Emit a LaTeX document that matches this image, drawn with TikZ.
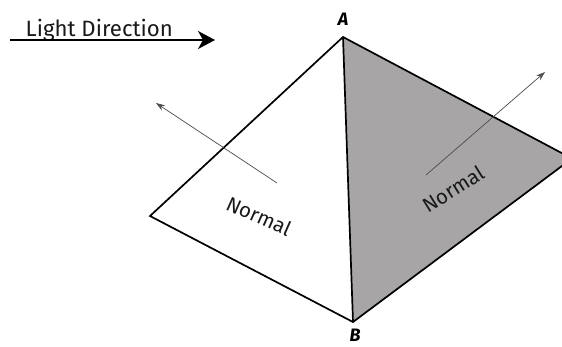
\documentclass[tikz,border=0pt]{standalone}
\usepackage{fontspec}
\setmainfont{Fira Sans}
\usetikzlibrary{arrows.meta}
\definecolor{facegray}{HTML}{A7A5A6}
\tikzset{
  edge/.style={line width=1.7pt,line join=miter},
  normalarrow/.style={line width=0.7pt,color=black!70,-{Stealth[length=9pt,width=6pt]}},
  lbl/.style={font=\fontsize{20.5}{22}\selectfont,inner sep=0pt,color=black!90},
  vert/.style={font=\fontsize{18}{20}\selectfont\bfseries\itshape,inner sep=0pt}
}
\begin{document}
\begin{tikzpicture}[x=1pt,y=-1pt]
\useasboundingbox (0,0) rectangle (562,346);
\fill[white] (0,0) rectangle (562,346);
\coordinate (a) at (343,37);
\coordinate (b) at (353,322);
\coordinate (c) at (150,216);
\coordinate (d) at (572,158.5);
\fill[facegray] (a) -- (d) -- (b) -- cycle;
\draw[edge] (d) -- (a) -- (c) -- (b) -- (d);
\draw[edge] (a) -- (b);
\node[vert] (la) at (343,19) {A};
\node[vert] (lb) at (355,335.5) {B};
\coordinate (n1s) at (277,183);
\coordinate (n1e) at (156,103);
\draw[normalarrow] (n1s) -- (n1e);
\coordinate (n2s) at (426,175);
\coordinate (n2e) at (545,72);
\draw[normalarrow] (n2s) -- (n2e);
\node[lbl,rotate=-24] (t1) at (259,216) {Normal};
\node[lbl,rotate=32] (t2) at (453,189) {Normal};
\node[font=\fontsize{22.2}{24}\selectfont,inner sep=0pt,anchor=base west,color=black!90] (ld) at (25.5,36) {Light Direction};
\coordinate (ls) at (10,40);
\coordinate (le) at (215,40);
\draw[line width=1.3pt,-{Stealth[length=17pt,width=18pt,inset=5pt]}] (ls) -- (le);
\end{tikzpicture}
\end{document}
